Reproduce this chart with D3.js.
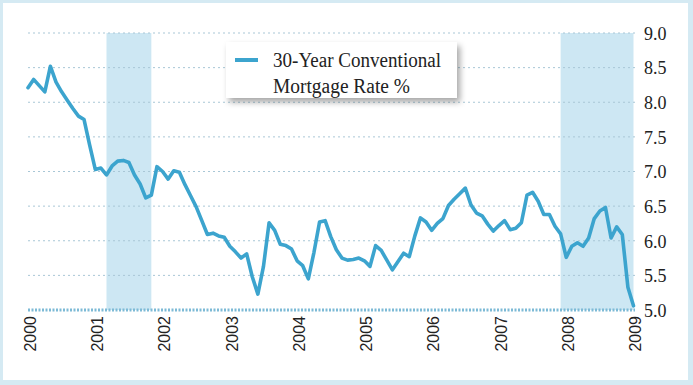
<!DOCTYPE html>
<html>
<head>
<meta charset="utf-8">
<script src="https://cdn.jsdelivr.net/npm/d3@7"></script>
<style>
  html, body { margin: 0; padding: 0; background: #ffffff; }
  svg { display: block; }
</style>
</head>
<body>
<script>
// ---- Data (monthly 30-year conventional mortgage rate, %) ----
const years = [2000, 2001, 2002, 2003, 2004, 2005, 2006, 2007, 2008, 2009];
const rates2000 = [8.21, 8.33, 8.24, 8.15, 8.52, 8.29, 8.15, 8.03, 7.91, 7.80, 7.75, 7.38];
const rates2001 = [7.03, 7.05, 6.95, 7.08, 7.15, 7.16, 7.13, 6.95, 6.82, 6.62, 6.66, 7.07];
const rates2002 = [7.00, 6.89, 7.01, 6.99, 6.81, 6.65, 6.49, 6.29, 6.09, 6.11, 6.07, 6.05];
const rates2003 = [5.92, 5.84, 5.75, 5.81, 5.48, 5.23, 5.63, 6.26, 6.15, 5.95, 5.93, 5.88];
const rates2004 = [5.71, 5.64, 5.45, 5.83, 6.27, 6.29, 6.06, 5.87, 5.75, 5.72, 5.73, 5.75];
const rates2005 = [5.71, 5.63, 5.93, 5.86, 5.72, 5.58, 5.70, 5.82, 5.77, 6.07, 6.33, 6.27];
const rates2006 = [6.15, 6.25, 6.32, 6.51, 6.60, 6.68, 6.76, 6.52, 6.40, 6.36, 6.24, 6.14];
const rates2007 = [6.22, 6.29, 6.16, 6.18, 6.26, 6.66, 6.70, 6.57, 6.38, 6.38, 6.21, 6.10];
const rates2008 = [5.76, 5.92, 5.97, 5.92, 6.04, 6.32, 6.43, 6.48, 6.04, 6.20, 6.09, 5.33];
const rates2009 = [5.06];
const yTicks = [5.0, 5.5, 6.0, 6.5, 7.0, 7.5, 8.0, 8.5, 9.0];
// recession periods as [start year, start month(1-12), end year, end month]
const recessionStart = [[2001, 3], [2007, 12]];
const recessionEnd = [[2001, 11], [2009, 1]];
const legendLines = ["30-Year Conventional", "Mortgage Rate %"];

const allRates = [rates2000, rates2001, rates2002, rates2003, rates2004,
                  rates2005, rates2006, rates2007, rates2008, rates2009];
const series = [];
allRates.forEach((arr, yi) => {
  arr.forEach((v, m) => series.push({ t: years[yi] + m / 12, v: v }));
});

// ---- Layout ----
const W = 693, H = 385;
const svg = d3.select("body").append("svg").attr("width", W).attr("height", H);

const defs = svg.append("defs");
const f = defs.append("filter").attr("id", "shadow")
  .attr("x", "-10%").attr("y", "-20%").attr("width", "130%").attr("height", "160%");
f.append("feDropShadow").attr("dx", 3).attr("dy", 4).attr("stdDeviation", 3)
  .attr("flood-color", "#000").attr("flood-opacity", 0.35);

// outer frame
svg.append("rect").attr("x", 0).attr("y", 0).attr("width", W).attr("height", H).attr("fill", "#d5eaf3");
svg.append("rect").attr("x", 3).attr("y", 3).attr("width", 685).attr("height", 377).attr("fill", "#ffffff");

const x = d3.scaleLinear().domain([2000, 2009]).range([28, 633.5]);
const y = d3.scaleLinear().domain([5, 9]).range([310, 33]);

// recession bands
recessionStart.forEach((s, i) => {
  const e = recessionEnd[i];
  const x0 = x(s[0] + (s[1] - 1) / 12);
  const x1 = Math.min(x(e[0] + (e[1] - 1) / 12), x(2009) + 1.5);
  svg.append("rect").attr("x", x0).attr("y", y(9)).attr("width", x1 - x0)
    .attr("height", y(5) - y(9)).attr("fill", "#cde7f3");
});

// gridlines
svg.append("g").selectAll("line").data(yTicks.filter(d => d > 5)).join("line")
  .attr("x1", x(2000)).attr("x2", x(2009) + 1.5)
  .attr("y1", d => y(d)).attr("y2", d => y(d))
  .attr("stroke", "#a9c7d6").attr("stroke-width", 1).attr("stroke-dasharray", "2,3");

// bottom axis line (dotted, heavier)
svg.append("line").attr("x1", x(2000)).attr("x2", x(2009) + 1.5)
  .attr("y1", y(5)).attr("y2", y(5))
  .attr("stroke", "#7dbad6").attr("stroke-width", 3).attr("stroke-dasharray", "2,1.5");

// y axis labels (right)
const yAxis = d3.axisRight(y).tickValues(yTicks).tickFormat(d3.format(".1f")).tickSize(0).tickPadding(0);
const gy = svg.append("g").attr("transform", `translate(644,0)`).call(yAxis);
gy.select(".domain").remove();
gy.selectAll("text").attr("font-family", "'Liberation Serif', 'Times New Roman', serif")
  .attr("font-size", 18).attr("fill", "#222").attr("dy", "0.35em");

// x axis labels (rotated)
const xAxis = d3.axisBottom(x).tickValues(years).tickFormat(d3.format("d")).tickSize(0).tickPadding(0);
const gx = svg.append("g").attr("transform", `translate(0,0)`).call(xAxis);
gx.select(".domain").remove();
gx.selectAll(".tick").attr("transform", d => `translate(${x(d) + 2},316)`);
gx.selectAll("text")
  .attr("font-family", "'Liberation Sans', Arial, sans-serif")
  .attr("font-size", 16).attr("fill", "#222")
  .attr("transform", "rotate(-90)")
  .attr("text-anchor", "end").attr("x", 0).attr("y", 0).attr("dy", "0.36em");

// line
const line = d3.line().x(d => x(d.t)).y(d => y(d.v));
svg.append("path").datum(series).attr("d", line)
  .attr("fill", "none").attr("stroke", "#3ca4ce").attr("stroke-width", 3.6)
  .attr("stroke-linejoin", "round").attr("stroke-linecap", "round");

// legend
const lg = svg.append("g");
lg.append("rect").attr("x", 226).attr("y", 42).attr("width", 231).attr("height", 56)
  .attr("fill", "#fff").attr("filter", "url(#shadow)");
lg.append("line").attr("x1", 235).attr("x2", 258).attr("y1", 60).attr("y2", 60)
  .attr("stroke", "#3ca4ce").attr("stroke-width", 4);
lg.selectAll("text").data(legendLines).join("text")
  .attr("x", 273).attr("y", (d, i) => 67 + i * 26)
  .attr("font-family", "'Liberation Serif', 'Times New Roman', serif")
  .attr("font-size", 20).attr("fill", "#222")
  .attr("textLength", (d, i) => i === 0 ? 168 : 137).attr("lengthAdjust", "spacingAndGlyphs")
  .text(d => d);
</script>
</body>
</html>
